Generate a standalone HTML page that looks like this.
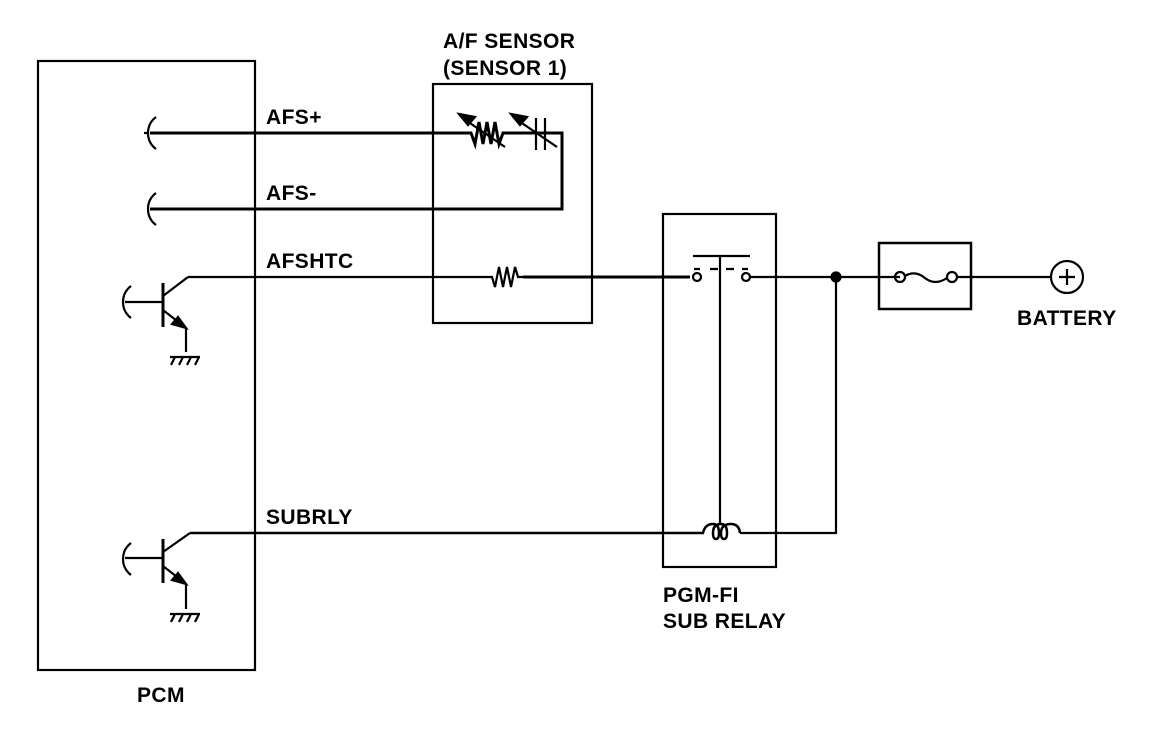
<!DOCTYPE html>
<html><head><style>
body{margin:0;background:#fff}
svg{display:block}
text{font-family:"Liberation Sans",sans-serif;font-weight:bold;font-size:21px;letter-spacing:0.4px;fill:#000}
</style></head><body>
<svg width="1152" height="734" viewBox="0 0 1152 734" fill="none" stroke="#000" stroke-width="2.2">
<rect x="38" y="61" width="217" height="609"/>
<rect x="433" y="84" width="159" height="239"/>
<rect x="663" y="214" width="113" height="353"/>
<rect x="879" y="243" width="92" height="66" stroke-width="2.5"/>
<!-- AFS+ -->
<path d="M156 117 q-8 6 -8 16 q0 10 8 16 M148 133 h-4" />
<path d="M150 133 H471 l4 11 4-22 4 22 4-22 4 22 4-22 4 22 4-11 H562 V209 H150" stroke-width="3"/>
<path d="M156 193 q-8 6 -8 16 q0 10 8 16" />
<path d="M461 117 L505 147"/><path d="M459 114 l16 3 -7 8z" fill="#000"/>
<path d="M536 118 V150 M545 118 V150"/>
<path d="M513 117 L557 147"/><path d="M511 114 l16 3 -7 8z" fill="#000"/>
<!-- AFSHTC -->
<path d="M188 277 H492 l3 10 4-20 4 20 4-20 4 20 4-20 3 10 H660"/>
<path d="M523 277 H690" stroke-width="3"/>
<!-- relay switch -->
<circle cx="697" cy="277" r="4"/><circle cx="746" cy="277" r="4"/>
<path d="M693 256 H750 M720 256 V524 M694 269 H700 M710 269 H718 M726 269 H734 M742 269 H748"/>
<path d="M750 277 H900 M836 277 V533 H740"/>
<circle cx="836" cy="277" r="4.5" fill="#000"/>
<circle cx="900" cy="277" r="5"/><circle cx="952" cy="277" r="5"/>
<path d="M905 276 q10 -6 20 2 t22 0"/>
<path d="M957 277 H1050"/>
<circle cx="1067" cy="277" r="16"/>
<path d="M1059 277 H1075 M1067 269 V285"/>
<!-- coil -->
<path d="M190 533 H703 q2 -9 10 -9 q6 0 6 9 q0 6 -3 6 q-3 0 -3 -6 q0 -9 8 -9 q6 0 6 9 q0 6 -3 6 q-3 0 -3 -6 q0 -9 10 -9 q8 0 9 9" stroke-width="2.5"/>
<!-- transistor 1 -->
<path d="M131 286 q-8 6 -8 16 q0 10 8 16"/>
<path d="M125 302 H163"/>
<path d="M163 283 V327" stroke-width="3"/>
<path d="M163 296 L188 277 M163 310 L186 328 V352 M170 357 H200 M175 357 l-4 8 M183 357 l-4 8 M191 357 l-4 8 M199 357 l-4 8"/>
<path d="M186 328 l-14 -4 6 -7z" fill="#000"/>
<!-- transistor 2 -->
<path d="M131 543 q-8 6 -8 16 q0 10 8 16"/>
<path d="M125 558 H163"/>
<path d="M163 539 V583" stroke-width="3"/>
<path d="M163 552 L190 533 M163 566 L186 584 V609 M170 614 H200 M175 614 l-4 8 M183 614 l-4 8 M191 614 l-4 8 M199 614 l-4 8"/>
<path d="M186 584 l-14 -4 6 -7z" fill="#000"/>
<g stroke="none">
<text x="443" y="48">A/F SENSOR</text>
<text x="443" y="75">(SENSOR 1)</text>
<text x="266" y="124">AFS+</text>
<text x="266" y="200">AFS-</text>
<text x="266" y="268">AFSHTC</text>
<text x="266" y="524">SUBRLY</text>
<text x="663" y="602">PGM-FI</text>
<text x="663" y="628">SUB RELAY</text>
<text x="1017" y="325">BATTERY</text>
<text x="137" y="702">PCM</text>
</g>
</svg>
</body></html>
